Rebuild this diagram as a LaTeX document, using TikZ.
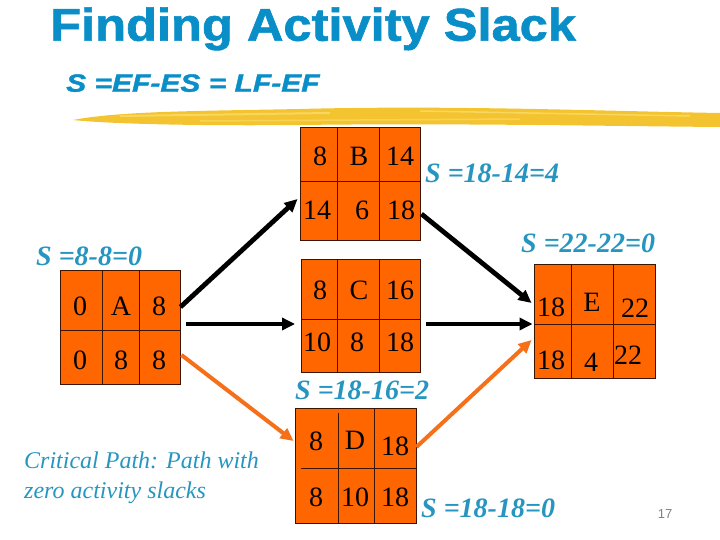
\documentclass[tikz,border=0pt]{standalone}
\usepackage{fontspec}
\setmainfont{Liberation Serif}
\setsansfont{Liberation Sans}
\newfontfamily\heavysans[FakeBold=1.3]{Liberation Sans}
\usepackage{graphicx}
\usepackage{tikz}
\usetikzlibrary{calc, positioning, arrows.meta}
\usepackage{xcolor}
\definecolor{titleBlue}{RGB}{10, 142, 200}
\definecolor{slackBlue}{RGB}{38, 150, 192}
\definecolor{boxOrange}{RGB}{255, 102, 0}
\definecolor{arrOrange}{RGB}{245, 112, 24}
\definecolor{boxEdge}{RGB}{60, 20, 0}
\definecolor{brushY}{RGB}{244, 196, 48}
\definecolor{brushL}{RGB}{250, 220, 110}

\begin{document}
\begin{tikzpicture}[x=1pt, y=-1pt,
    actbox/.style 2 args={draw=boxEdge, fill=boxOrange, line width=0.9pt,
      inner sep=0pt, minimum width=#1, minimum height=#2},
    cellline/.style={boxEdge, line width=0.8pt},
    cell/.style={inner sep=0pt, font=\fontsize{28}{28}\selectfont},
    slack/.style={slackBlue, inner sep=0pt, anchor=west,
      font=\fontsize{28}{28}\selectfont\bfseries\itshape},
    blk/.style={line width=4.8pt, -{Triangle[length=13pt, width=12pt]}},
    org/.style={arrOrange, line width=4pt, -{Triangle[length=13pt, width=12pt]}}]
  \useasboundingbox (0,0) rectangle (720,540);

  % Title
  \node[titleBlue, anchor=base west, inner sep=0pt,
    font=\fontsize{46}{46}\selectfont\heavysans\bfseries] (title) at (50,40.7)
    {\scalebox{1.1}[1]{Finding Activity Slack}};
  \node[titleBlue, anchor=base west, inner sep=0pt,
    font=\fontsize{25}{25}\selectfont\heavysans\bfseries\itshape] (formula) at (66,91.7)
    {\scalebox{1.2}[1]{S =EF-ES = LF-EF}};

  % brush stroke
  \fill[brushY] (73,120) .. controls (120,111) and (200,111) .. (300,109)
    .. controls (450,105) and (600,111) .. (720,113) -- (720,127)
    .. controls (600,126) and (450,123) .. (300,125)
    .. controls (200,126) and (110,124) .. (73,120) -- cycle;
  \draw[brushL, line width=2pt, opacity=0.8] (120,116) -- (330,113);
  \draw[brushL, line width=1.5pt, opacity=0.8] (420,111) -- (690,116);
  \draw[brushL, line width=1.5pt, opacity=0.6] (200,121) -- (520,119);

  % Box A
  \node[actbox={120pt}{114pt}] (A) at (120,327) {};
  \draw[cellline] (102,270) -- (102,384) (139,270) -- (139,384) (60,330) -- (180,330);
  \foreach \x/\t [count=\i] in {80/0, 121/A, 159/8}
    \node[cell] (A-t\i) at (\x,306) {\t};
  \foreach \x/\t [count=\i] in {80/0, 121/8, 159/8}
    \node[cell] (A-b\i) at (\x,360) {\t};

  % Box B
  \node[actbox={120pt}{113pt}] (B) at (360,183.5) {};
  \draw[cellline] (337,127) -- (337,240) (379,127) -- (379,240) (300,181) -- (420,181);
  \foreach \x/\t [count=\i] in {320/8, 359/B, 400/14}
    \node[cell] (B-t\i) at (\x,156) {\t};
  \foreach \x/\t [count=\i] in {317/14, 362/6, 401/18}
    \node[cell] (B-b\i) at (\x,210) {\t};

  % Box C
  \node[actbox={119pt}{113pt}] (C) at (360.5,315.5) {};
  \draw[cellline] (337,259) -- (337,372) (379,259) -- (379,372) (301,319) -- (420,319);
  \foreach \x/\t [count=\i] in {320/8, 359/C, 400/16}
    \node[cell] (C-t\i) at (\x,290) {\t};
  \foreach \x/\t [count=\i] in {317/10, 357/8, 400/18}
    \node[cell] (C-b\i) at (\x,342) {\t};

  % Box D
  \node[actbox={121pt}{115pt}] (D) at (355.5,465.5) {};
  \draw[cellline] (338,413) -- (338,523) (374,408) -- (374,523) (301,468) -- (416,468);
  \node[cell] (D-t1) at (316,441) {8};
  \node[cell] (D-t2) at (355,440) {D};
  \node[cell] (D-t3) at (395,446) {18};
  \foreach \x/\t [count=\i] in {316/8, 355/10, 395/18}
    \node[cell] (D-b\i) at (\x,497) {\t};

  % Box E
  \node[actbox={121pt}{114pt}] (E) at (594.5,321) {};
  \draw[cellline] (571,264) -- (571,378) (613,264) -- (613,378) (534,324) -- (655,324);
  \node[cell] (E-t1) at (551,307) {18};
  \node[cell] (E-t2) at (592,302) {E};
  \node[cell] (E-t3) at (635,308) {22};
  \node[cell] (E-b1) at (551,360) {18};
  \node[cell] (E-b2) at (591,362) {4};
  \node[cell] (E-b3) at (628,355) {22};

  % arrows
  \draw[blk] ([yshift=20pt]A.east) -- ([xshift=-2pt, yshift=-15.5pt]B.west);
  \draw[blk] ([xshift=6pt, yshift=3pt]A.east) -- ([xshift=-5.5pt, yshift=-8.5pt]C.west);
  \draw[org] ([xshift=1pt, yshift=-28pt]A.east) -- ([xshift=-1pt, yshift=24.5pt]D.west);
  \draw[blk] ([xshift=1pt, yshift=-30.5pt]B.east) -- ([xshift=-2pt, yshift=18pt]E.west);
  \draw[blk] ([xshift=6pt, yshift=-8.5pt]C.east) -- ([xshift=-1pt, yshift=-3pt]E.west);
  \draw[org] ([yshift=18.5pt]D.east) -- ([xshift=-2pt, yshift=-19pt]E.west);

  % slack labels
  \node[slack] (sB) at (425,173) {S =18-14=4};
  \node[slack] (sE) at (521,243) {S =22-22=0};
  \node[slack] (sA) at (36,256) {S =8-8=0};
  \node[slack] (sC) at (295,390) {S =18-16=2};
  \node[slack] (sD) at (421,508) {S =18-18=0};

  \node[slackBlue, anchor=north west, inner sep=0pt, align=left,
    font=\fontsize{24}{30}\selectfont\itshape] (crit) at (24,452)
    {Critical Path: Path with\\zero activity slacks};

  \node[gray, inner sep=0pt, font=\fontsize{13}{13}\selectfont\sffamily] (page) at (665,514) {17};
\end{tikzpicture}
\end{document}
